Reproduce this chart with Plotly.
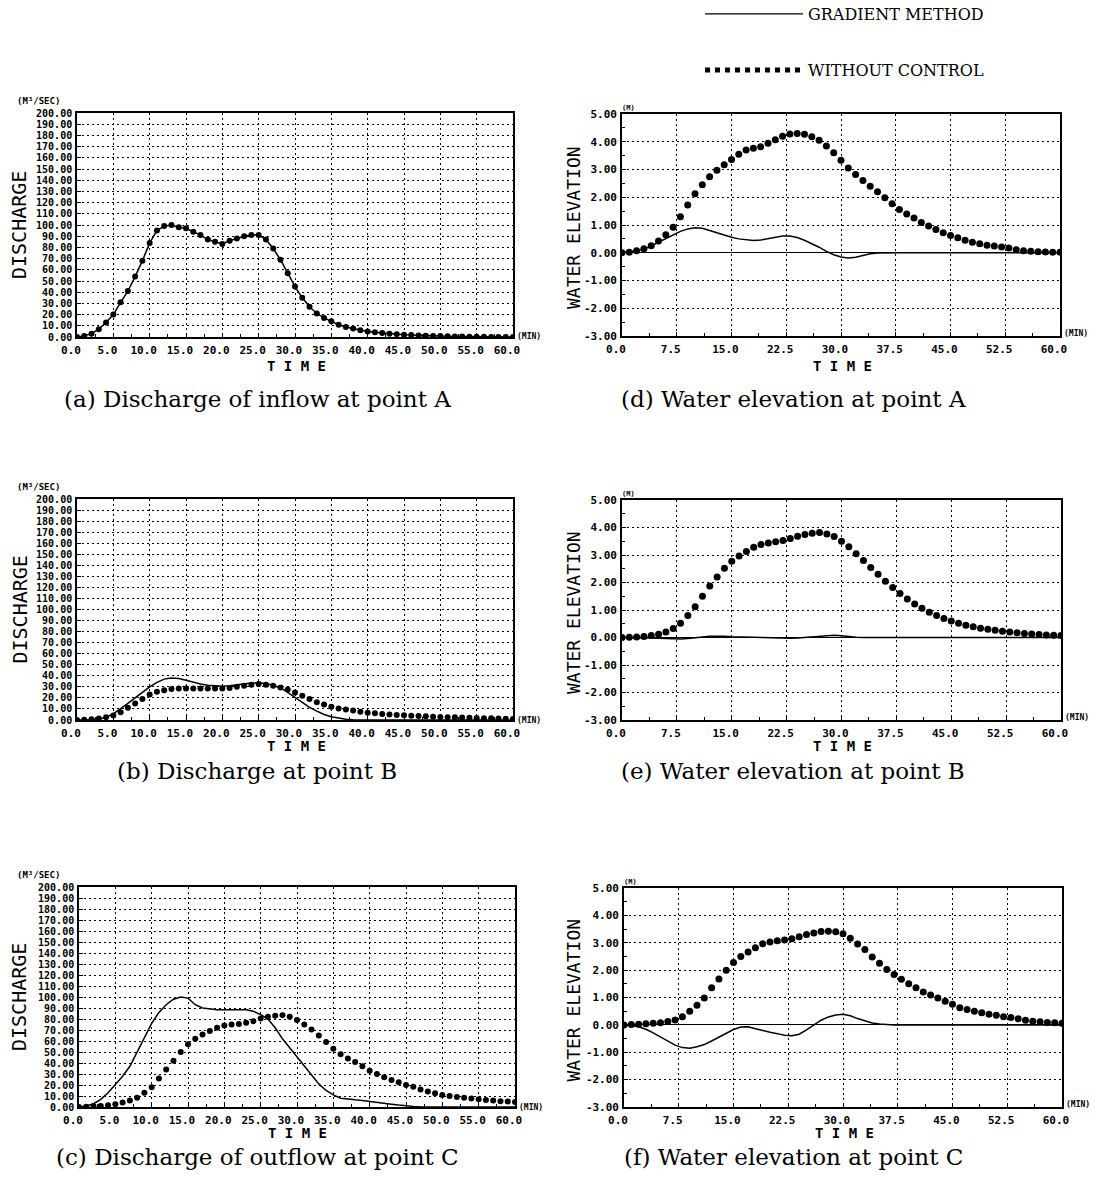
import plotly.graph_objects as go

W, H = 1096, 1192


def fx(p):
    return p / W


def fy(p):
    return 1 - p / H


# ---------------- data (time in minutes, 1-min steps) ----------------
t = list(range(61))

# (a) discharge of inflow at point A  (m3/s)
q_a_grad = [0, 1, 3, 7, 13, 20, 31, 41, 54, 68, 84, 95, 99, 100, 98, 97, 94, 91, 87, 85,
            83, 86, 88, 90, 91, 91, 87, 79, 69, 57, 45, 35, 27, 21, 17, 14, 11, 9, 7.5, 6,
            5, 4.2, 3.5, 3, 2.5, 2, 1.7, 1.4, 1.2, 1, 0.8, 0.6, 0.5, 0.4, 0.3, 0.2, 0.2, 0.1, 0.1, 0.1, 0]
q_a_free = [0, 1, 3, 7, 13, 20, 31, 41, 54, 68, 84, 95, 99, 100, 98, 97, 94, 91, 87, 85,
            83, 86, 88, 90, 91, 91, 87, 79, 69, 57, 45, 35, 27, 21, 17, 14, 11, 9, 7.5, 6,
            5, 4.2, 3.5, 3, 2.5, 2, 1.7, 1.4, 1.2, 1, 0.8, 0.6, 0.5, 0.4, 0.3, 0.2, 0.2, 0.1, 0.1, 0.1, 0]

# (b) discharge at point B
q_b_grad = [0, 0, 0.2, 0.8, 2.5, 5.5, 10, 15, 20, 25, 30, 34, 37, 38, 37.5, 36, 34, 32.5, 31.5, 31,
            30.5, 31, 32, 33, 33.5, 33.5, 33, 31.5, 29, 25, 20.5, 16, 11.5, 8, 5, 3, 1.5, 0.7, 0.3, 0.1,
            0, 0, 0, 0, 0, 0, 0, 0, 0, 0, 0, 0, 0, 0, 0, 0, 0, 0, 0, 0, 0]
q_b_free = [0, 0.3, 0.7, 1.3, 2.5, 4, 7, 11, 15, 19, 23, 25.5, 27, 28, 28.5, 28.5, 28.5, 28.5, 28.5, 28.5,
            28.5, 29, 30, 31, 32, 32.5, 32, 31, 29.5, 27.5, 25, 22, 19, 16, 14, 12, 10.5, 9.5, 8.5, 7.5,
            6.5, 6, 5.5, 5, 4.5, 4.2, 3.9, 3.6, 3.3, 3, 2.8, 2.6, 2.4, 2.2, 2, 1.8, 1.6, 1.5, 1.3, 1.2, 1]

# (c) discharge of outflow at point C
q_c_grad = [0, 1, 3, 7, 13, 20, 28, 37, 50, 62, 76, 86, 93, 98, 100, 99, 93, 90, 89, 88.5,
            88.5, 88.5, 88.5, 88.5, 87, 84, 80, 72, 62, 54, 46, 38, 29, 21, 15, 11, 8, 7, 6.5, 6,
            5, 4.2, 3.4, 2.6, 1.8, 1, 0.5, 0.2, 0, 0, 0, 0, 0, 0, 0, 0, 0, 0, 0, 0, 0]
q_c_free = [0, 0.3, 0.6, 1, 1.5, 2.5, 4, 6, 8.5, 13, 18, 26, 34, 42, 50, 57, 62, 66, 69, 72,
            74, 75, 75.5, 76.5, 78, 80.5, 82, 83, 83.5, 82, 79, 75, 70.5, 65, 59, 53, 48, 44, 41, 37,
            33, 30, 27, 24.5, 22.5, 20, 18.5, 16, 14, 12.5, 11, 10, 9.2, 8.5, 7.8, 7, 6.3, 5.8, 5.3, 5, 4.5]

# (d) water elevation at point A  (m)
h_a_grad = [0, 0.02, 0.06, 0.13, 0.24, 0.38, 0.52, 0.65, 0.77, 0.86, 0.9, 0.88, 0.8, 0.72, 0.63, 0.56, 0.5, 0.46, 0.44, 0.46,
            0.5, 0.56, 0.6, 0.6, 0.55, 0.45, 0.33, 0.2, 0.05, -0.07, -0.15, -0.19, -0.16, -0.1, -0.04, -0.01, 0, 0, 0, 0,
            0, 0, 0, 0, 0, 0, 0, 0, 0, 0, 0, 0, 0, 0, 0, 0, 0, 0, 0, 0, 0]
h_a_free = [0, 0.02, 0.07, 0.14, 0.25, 0.42, 0.65, 0.92, 1.3, 1.72, 2.13, 2.45, 2.74, 2.97, 3.17, 3.36, 3.55, 3.7, 3.77, 3.82,
            3.95, 4.07, 4.2, 4.28, 4.3, 4.27, 4.18, 4.05, 3.85, 3.6, 3.33, 3.05, 2.82, 2.6, 2.4, 2.2, 1.98, 1.77, 1.56, 1.4,
            1.25, 1.09, 0.96, 0.84, 0.72, 0.62, 0.54, 0.45, 0.38, 0.32, 0.27, 0.24, 0.21, 0.17, 0.11, 0.07, 0.05, 0.04, 0.03, 0.02, 0.02]

# (e) water elevation at point B
h_b_grad = [0, 0, 0, -0.01, -0.02, -0.03, -0.04, -0.05, -0.05, -0.04, -0.02, 0.02, 0.05, 0.06, 0.05, 0.03, 0.02, 0.02, 0.01, 0,
            -0.02, -0.03, -0.04, -0.03, -0.02, 0, 0.03, 0.06, 0.08, 0.08, 0.06, 0.03, 0.01, 0, 0, 0, 0, 0, 0, 0,
            0, 0, 0, 0, 0, 0, 0, 0, 0, 0, 0, 0, 0, 0, 0, 0, 0, 0, 0, 0, 0]
h_b_free = [0, 0.01, 0.02, 0.04, 0.07, 0.12, 0.2, 0.33, 0.52, 0.8, 1.12, 1.5, 1.87, 2.2, 2.52, 2.77, 2.96, 3.13, 3.28, 3.38,
            3.44, 3.48, 3.53, 3.6, 3.68, 3.75, 3.79, 3.82, 3.76, 3.67, 3.5, 3.3, 3.05, 2.8, 2.55, 2.3, 2.05, 1.82, 1.6, 1.4,
            1.22, 1.06, 0.92, 0.8, 0.69, 0.6, 0.52, 0.45, 0.39, 0.34, 0.3, 0.26, 0.23, 0.2, 0.17, 0.15, 0.13, 0.11, 0.09, 0.08, 0.07]

# (f) water elevation at point C
h_c_grad = [0, -0.02, -0.07, -0.16, -0.29, -0.44, -0.6, -0.74, -0.83, -0.85, -0.8, -0.72, -0.59, -0.46, -0.3, -0.17, -0.08, -0.07, -0.14, -0.21,
            -0.27, -0.32, -0.38, -0.4, -0.34, -0.18, 0, 0.17, 0.29, 0.36, 0.39, 0.33, 0.23, 0.14, 0.07, 0.03, 0.01, 0, 0, 0,
            0, 0, 0, 0, 0, 0, 0, 0, 0, 0, 0, 0, 0, 0, 0, 0, 0, 0, 0, 0, 0]
h_c_free = [0, 0.01, 0.02, 0.04, 0.06, 0.08, 0.12, 0.18, 0.3, 0.5, 0.72, 0.98, 1.36, 1.68, 2.0, 2.28, 2.5, 2.66, 2.82, 2.96,
            3.03, 3.07, 3.1, 3.15, 3.22, 3.3, 3.36, 3.41, 3.42, 3.4, 3.33, 3.16, 2.95, 2.75, 2.48, 2.25, 2.02, 1.84, 1.67, 1.5,
            1.36, 1.2, 1.09, 0.98, 0.86, 0.75, 0.63, 0.56, 0.5, 0.44, 0.39, 0.35, 0.3, 0.27, 0.22, 0.17, 0.13, 0.11, 0.09, 0.08, 0.06]

# ---------------- ticks ----------------
q_tickvals = [0, 10, 20, 30, 40, 50, 60, 70, 80, 90, 100, 110, 120, 130, 140, 150, 160, 170, 180, 190, 200]
q_ticktext = ["0.00", "10.00", "20.00", "30.00", "40.00", "50.00", "60.00", "70.00", "80.00", "90.00",
              "100.00", "110.00", "120.00", "130.00", "140.00", "150.00", "160.00", "170.00", "180.00",
              "190.00", "200.00"]
tq_tickvals = [0, 5, 10, 15, 20, 25, 30, 35, 40, 45, 50, 55, 60]
tq_ticktext = ["0.0", "5.0", "10.0", "15.0", "20.0", "25.0", "30.0", "35.0", "40.0", "45.0", "50.0", "55.0", "60.0"]
h_tickvals = [-3, -2, -1, 0, 1, 2, 3, 4, 5]
h_ticktext = ["-3.00", "-2.00", "-1.00", "0.00", "1.00", "2.00", "3.00", "4.00", "5.00"]
th_tickvals = [0, 7.5, 15, 22.5, 30, 37.5, 45, 52.5, 60]
th_ticktext = ["0.0", "7.5", "15.0", "22.5", "30.0", "37.5", "45.0", "52.5", "60.0"]
tq_minor = [2.5, 7.5, 12.5, 17.5, 22.5, 27.5, 32.5, 37.5, 42.5, 47.5, 52.5, 57.5]
th_minor = [3.75, 11.25, 18.75, 26.25, 33.75, 41.25, 48.75, 56.25]
h_minor = [-2.5, -1.5, -0.5, 0.5, 1.5, 2.5, 3.5, 4.5]

captions = ["(a) Discharge of inflow at point A", "(b) Discharge at point B",
            "(c) Discharge of outflow at point C", "(d) Water elevation at point A",
            "(e) Water elevation at point B", "(f) Water elevation at point C"]

# panel geometry in pixels: (left, right, top, bottom)
panels = [
    dict(kind="q", box=(77, 513, 113, 337), grad=q_a_grad, free=q_a_free, cap_y=399, time_y=366, xshift=-6),
    dict(kind="q", box=(77, 513, 499, 720), grad=q_b_grad, free=q_b_free, cap_y=771, time_y=746, xshift=-6),
    dict(kind="q", box=(79, 515, 887, 1107), grad=q_c_grad, free=q_c_free, cap_y=1157, time_y=1133, xshift=-6),
    dict(kind="h", box=(622, 1060, 114, 336), grad=h_a_grad, free=h_a_free, cap_y=399, time_y=366, xshift=-6),
    dict(kind="h", box=(622, 1061, 500, 720), grad=h_b_grad, free=h_b_free, cap_y=771, time_y=746, xshift=-6),
    dict(kind="h", box=(624, 1062, 888, 1107), grad=h_c_grad, free=h_c_free, cap_y=1157, time_y=1133, xshift=-6),
]

qtickfont = dict(family="DejaVu Sans Mono", size=10, color="black", weight="bold")
tickfont = dict(family="DejaVu Sans Mono", size=11, color="black", weight="bold")
GRID = "2px,3px"

fig = go.Figure()
layout = dict(width=W, height=H, margin=dict(l=0, r=0, t=0, b=0, autoexpand=False),
              paper_bgcolor="white", plot_bgcolor="white", annotations=[])

for i, p in enumerate(panels):
    n = i + 1
    xa = "x" if n == 1 else f"x{n}"
    ya = "y" if n == 1 else f"y{n}"
    l, r, tp, bt = p["box"]
    msize = 6 if p["kind"] == "q" else 7
    fig.add_trace(go.Scatter(x=t, y=p["grad"], mode="lines", line=dict(color="black", width=1.5),
                             xaxis=xa, yaxis=ya, showlegend=False, hoverinfo="skip"))
    fig.add_trace(go.Scatter(x=t, y=p["free"], mode="markers", marker=dict(color="black", size=msize),
                             xaxis=xa, yaxis=ya, showlegend=False, hoverinfo="skip"))
    if p["kind"] == "q":
        xt, xtt, xm = tq_tickvals, tq_ticktext, tq_minor
        yt, ytt, ym, yr = q_tickvals, q_ticktext, None, [0, 200]
        yfont = qtickfont
    else:
        xt, xtt, xm = th_tickvals, th_ticktext, th_minor
        yt, ytt, ym, yr = h_tickvals, h_ticktext, h_minor, [-3, 5]
        yfont = tickfont
    xaxis = dict(domain=[fx(l), fx(r)], range=[0, 60], anchor=ya,
                 tickmode="array", tickvals=xt, ticktext=xtt, ticks="inside", ticklen=4,
                 tickcolor="black", tickfont=tickfont, showline=True, linecolor="black",
                 linewidth=1.6, mirror=True, showgrid=True, gridcolor="black", gridwidth=1,
                 griddash=GRID, zeroline=False, ticklabelshift=p["xshift"], ticklabelstandoff=2,
                 minor=dict(tickmode="array", tickvals=xm, ticks="inside", ticklen=3,
                            tickcolor="black", showgrid=False))
    yaxis = dict(domain=[fy(bt), fy(tp)], range=yr, anchor=xa,
                 tickmode="array", tickvals=yt, ticktext=ytt, ticks="inside", ticklen=4,
                 tickcolor="black", tickfont=yfont, showline=True, linecolor="black",
                 linewidth=1.6, mirror=True, showgrid=True, gridcolor="black", gridwidth=1,
                 griddash=GRID, zeroline=(p["kind"] == "h"), zerolinecolor="black",
                 zerolinewidth=1.3, ticklabelstandoff=1)
    if ym:
        yaxis["minor"] = dict(tickmode="array", tickvals=ym, ticks="inside", ticklen=3,
                              tickcolor="black", showgrid=False)
    layout["xaxis" if n == 1 else f"xaxis{n}"] = xaxis
    layout["yaxis" if n == 1 else f"yaxis{n}"] = yaxis

    cx = (l + r) / 2
    ann = layout["annotations"]
    if p["kind"] == "q":
        ann.append(dict(text="DISCHARGE", x=fx(19), y=fy((tp + bt) / 2), xref="paper", yref="paper",
                        showarrow=False, textangle=-90, xanchor="center", yanchor="middle",
                        font=dict(family="DejaVu Sans Mono", size=20, color="black")))
        ann.append(dict(text="(M³/SEC)", x=fx(38), y=fy(tp - 12), xref="paper", yref="paper",
                        showarrow=False, xanchor="center", yanchor="middle",
                        font=dict(family="DejaVu Sans Mono", size=9, color="black", weight="bold")))
        ann.append(dict(text="(MIN)", x=fx(r + 16), y=fy(bt), xref="paper", yref="paper",
                        showarrow=False, xanchor="center", yanchor="middle",
                        font=dict(family="DejaVu Sans Mono", size=8, color="black", weight="bold")))
        cap_x = 257
    else:
        ann.append(dict(text="WATER ELEVATION", x=fx(573), y=fy((tp + bt) / 2 + 3), xref="paper", yref="paper",
                        showarrow=False, textangle=-90, xanchor="center", yanchor="middle",
                        font=dict(family="DejaVu Sans Mono", size=18, color="black")))
        ann.append(dict(text="(M)", x=fx(l + 6), y=fy(tp - 6), xref="paper", yref="paper",
                        showarrow=False, xanchor="center", yanchor="middle",
                        font=dict(family="DejaVu Sans Mono", size=7, color="black", weight="bold")))
        ann.append(dict(text="(MIN)", x=fx(r + 16), y=fy(bt - 3), xref="paper", yref="paper",
                        showarrow=False, xanchor="center", yanchor="middle",
                        font=dict(family="DejaVu Sans Mono", size=8, color="black", weight="bold")))
        cap_x = 793
    ann.append(dict(text="T I M E", x=fx(cx + 1), y=fy(p["time_y"]), xref="paper", yref="paper",
                    showarrow=False, xanchor="center", yanchor="middle",
                    font=dict(family="DejaVu Sans Mono", size=14, color="black", weight="bold")))
    ann.append(dict(text=captions[i], x=fx(cap_x), y=fy(p["cap_y"]), xref="paper", yref="paper",
                    showarrow=False, xanchor="center", yanchor="middle",
                    font=dict(family="DejaVu Serif", size=23, color="black")))

# legend entries (style samples only, no data)
fig.add_trace(go.Scatter(x=[None], y=[None], mode="lines", name="GRADIENT METHOD",
                         line=dict(color="black", width=1.2), legend="legend"))
fig.add_trace(go.Scatter(x=[None], y=[None], mode="lines", name="WITHOUT CONTROL",
                         line=dict(color="black", width=5, dash="5px,5px"), legend="legend2"))

legfont = dict(family="DejaVu Serif", size=16, color="black")
layout["legend"] = dict(x=fx(700), y=fy(-3), xanchor="left", yanchor="top", font=legfont,
                        itemwidth=98, bgcolor="rgba(0,0,0,0)")
layout["legend2"] = dict(x=fx(700), y=fy(53), xanchor="left", yanchor="top", font=legfont,
                         itemwidth=98, bgcolor="rgba(0,0,0,0)")

fig.update_layout(**layout)
fig.write_html("out.html")
